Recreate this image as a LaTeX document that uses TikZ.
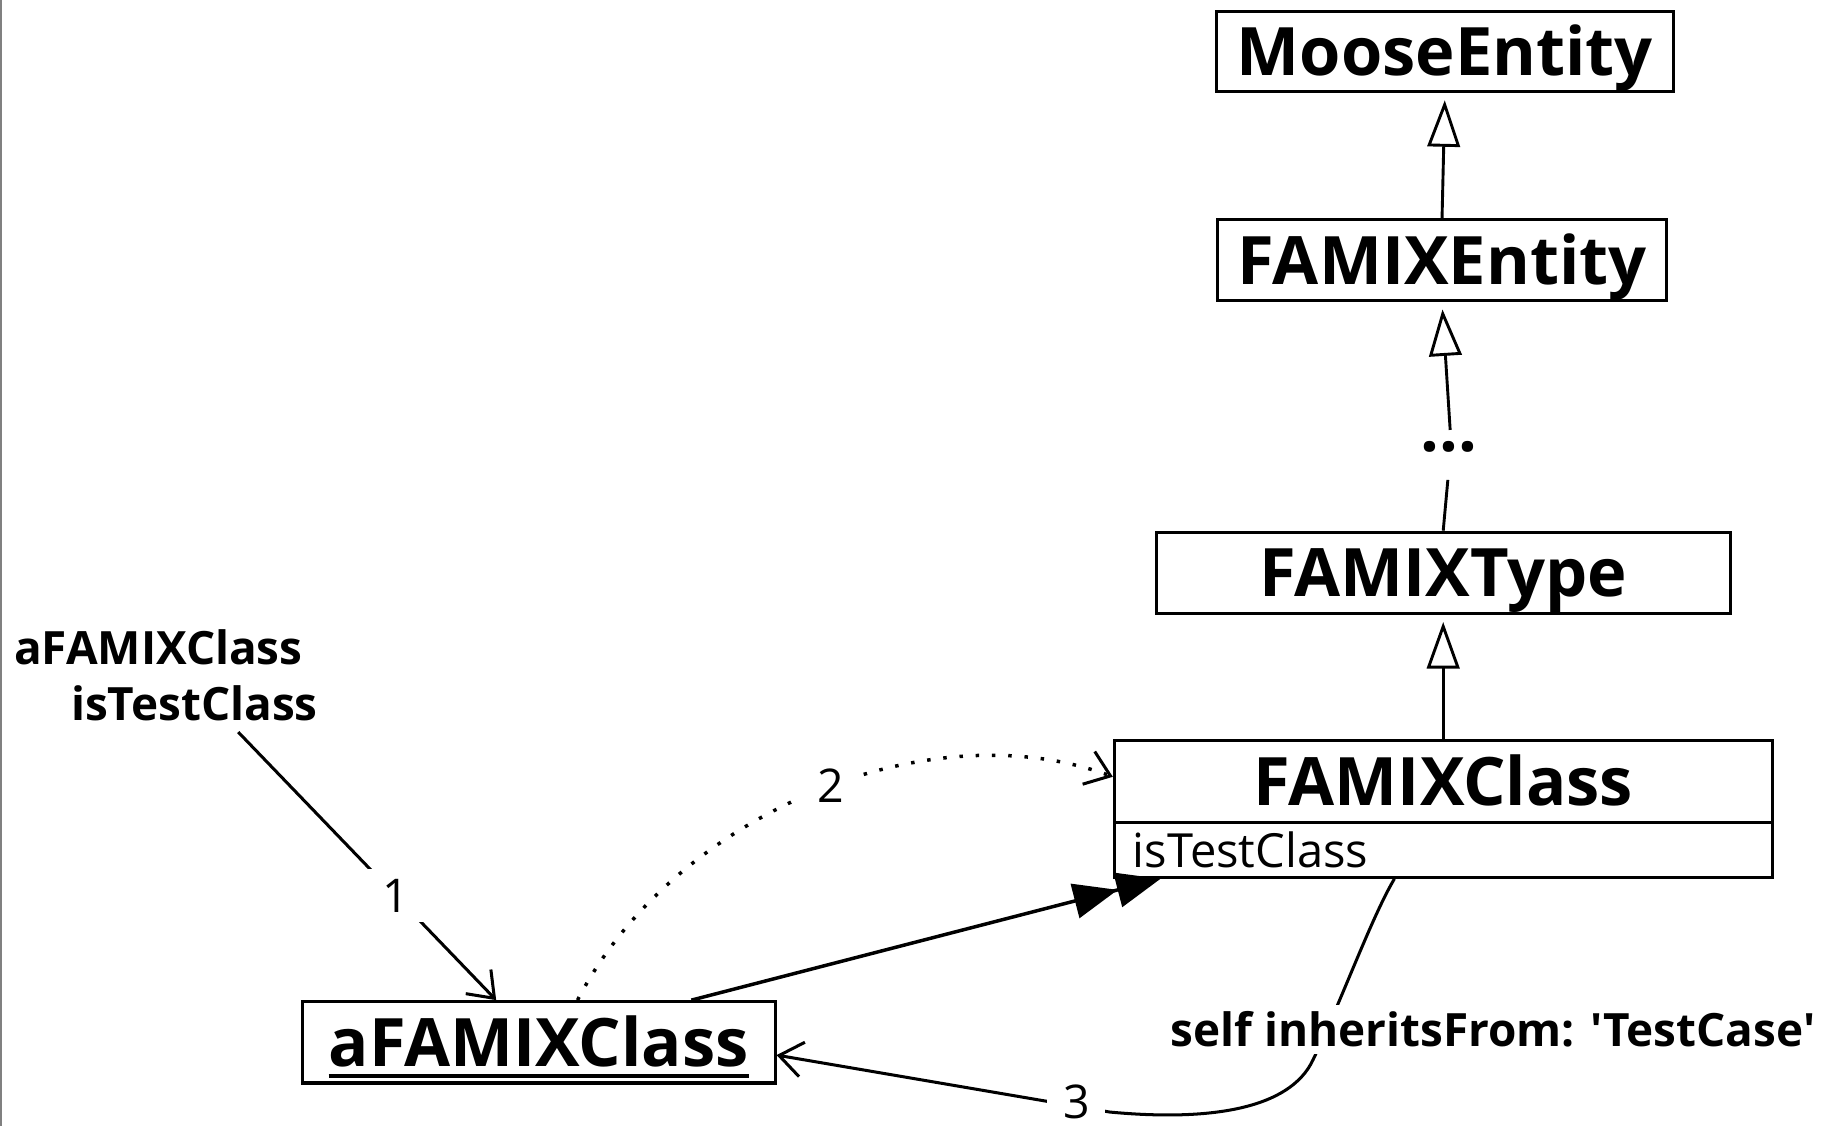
\documentclass[tikz,border=0pt]{standalone}
\usepackage{fontspec}
\setmainfont{Open Sans}
\usetikzlibrary{arrows.meta}
\newcommand\ulbox[1]{\setbox0=\hbox{#1}\rlap{\rule[-10pt]{\wd0}{3pt}}\box0}
\begin{document}
\begin{tikzpicture}[x=1pt,y=-1pt,
  cls/.style={draw, line width=2.6pt, inner sep=0pt, text height=41pt, text depth=0pt,
    font=\bfseries\fontsize{57.5}{60}\selectfont},
  attr/.style={draw, line width=2.6pt, inner ysep=0pt, inner xsep=16pt, text width=534pt,
    align=left, minimum height=47pt, font=\fontsize{40.5}{46}\selectfont},
  lab/.style={font=\bfseries\fontsize{39.5}{48}\selectfont, inner sep=2pt},
  num/.style={font=\fontsize{40}{46}\selectfont, fill=white, inner sep=0pt,
    text height=29pt, text depth=0pt, minimum width=50pt, minimum height=36pt},
  gen/.style={line width=2.5pt, -{Triangle[open, length=40pt, width=28pt, fill=white]}, shorten >=6pt},
  plain/.style={line width=2.5pt},
  assoc/.style={line width=2.6pt, -{Straight Barb[length=20pt, width=30pt]}},
  dotline/.style={line width=3pt, dash pattern=on 3pt off 11pt,
    -{Straight Barb[length=20pt, width=30pt, line width=2.6pt]}},
  filled/.style={line width=3pt, -{Triangle[length=38pt, width=30pt] Triangle[length=38pt, width=30pt]}}
]
\useasboundingbox (0,0) rectangle (1568,969);
\draw[gray, line width=1.5pt] (1,0) -- (1,969);

\node[cls, minimum width=393pt, minimum height=69pt] (me) at (1243.5,44.5) {MooseEntity};
\node[cls, minimum width=386pt, minimum height=70pt] (fe) at (1241,224) {FAMIXEntity};
\node[font=\bfseries\fontsize{57}{60}\selectfont, inner sep=0pt] (dots) at (1247,385) {...};
\coordinate (dtop) at (1248,370);
\coordinate (dbot) at (1246,413);
\node[cls, minimum width=494pt, minimum height=70pt] (ft) at (1242,493) {FAMIXType};
\node[cls, minimum width=566pt, minimum height=71pt] (fc) at (1242,672.5) {FAMIXClass};
\node[attr] (fca) at (1242,731.5) {isTestClass};
\node[cls, minimum width=407pt, minimum height=70pt] (afc) at (463.5,897) {\ulbox{aFAMIXClass}};
\node[lab, align=left, anchor=north west] (lbl) at (10,540) {aFAMIXClass\\\hspace*{49pt}isTestClass};

\draw[gen] (fe.north) -- (me.south);
\draw[gen] (dtop) -- (fe.south);
\draw[plain] (ft.north) -- (dbot);
\draw[gen] (fc.north) -- (ft.south);

\draw[assoc] (205,630) -- node[num, pos=0.61, minimum height=46pt] {1} ([xshift=-36.5pt]afc.north);
\draw[dotline] ([xshift=33.5pt]afc.north) .. controls (580,700) and (800,610) .. node[num, pos=0.53, minimum height=44pt] {2} ([yshift=4pt]fc.west);
\draw[filled] ([xshift=131.5pt]afc.north) -- ([xshift=41pt]fca.south west);
\draw[assoc] ([xshift=-42pt]fca.south) .. controls (1180,790) and (1155,860) .. (1130,912)
   .. controls (1110,955) and (1040,965) .. (955,957) -- node[num, pos=0.1, yshift=4pt] {3} ([yshift=-11pt]afc.east);
\node[lab, fill=white, inner sep=6pt] (self) at (1285,886) {self inheritsFrom: \textquotesingle TestCase\textquotesingle};
\end{tikzpicture}
\end{document}
